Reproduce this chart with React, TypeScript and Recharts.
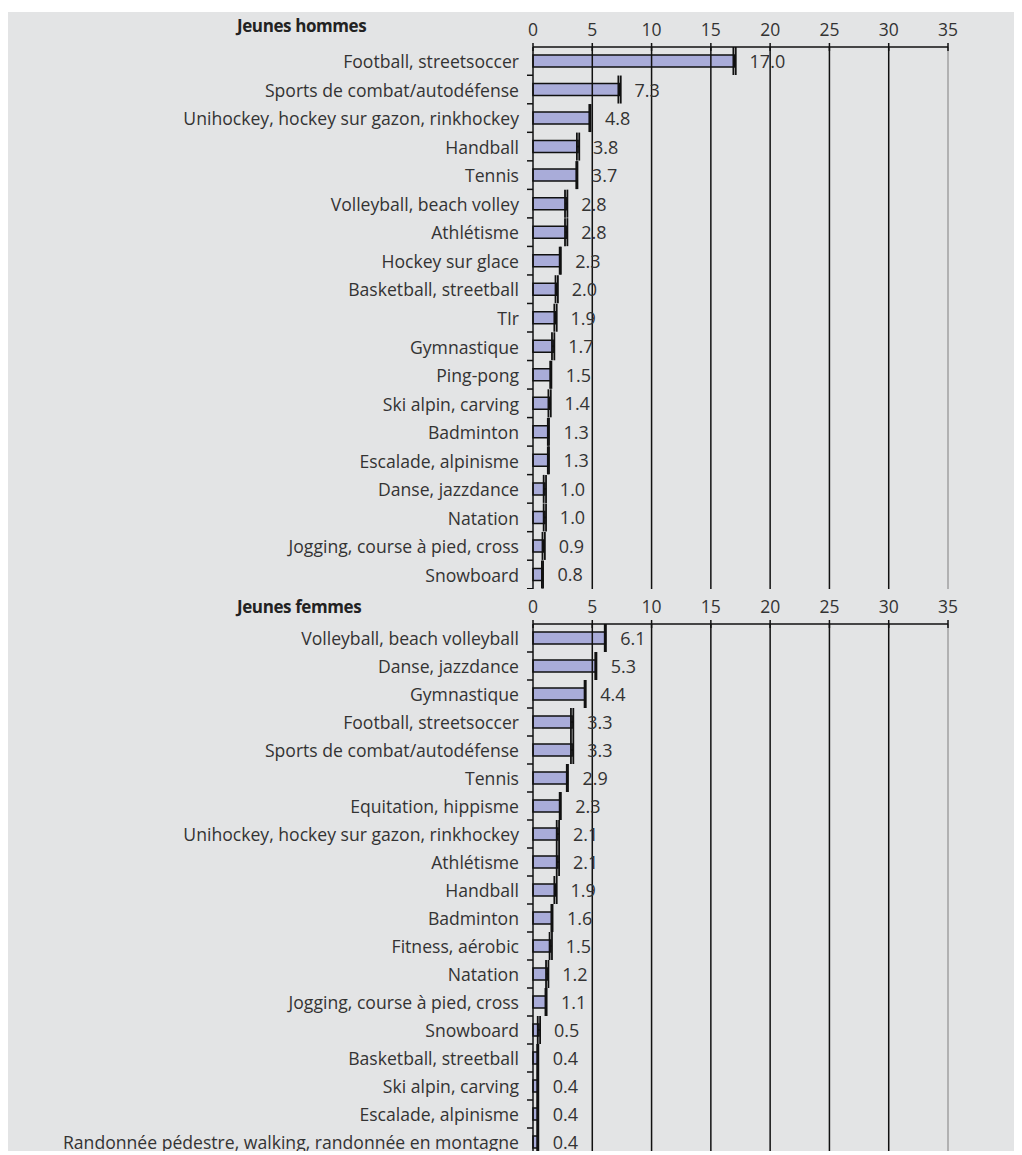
import React from 'react';
import { BarChart, Bar, XAxis, YAxis, ReferenceLine, ErrorBar, LabelList } from 'recharts';

const menCategories = [
  'Football, streetsoccer',
  'Sports de combat/autodéfense',
  'Unihockey, hockey sur gazon, rinkhockey',
  'Handball',
  'Tennis',
  'Volleyball, beach volley',
  'Athlétisme',
  'Hockey sur glace',
  'Basketball, streetball',
  'TIr',
  'Gymnastique',
  'Ping-pong',
  'Ski alpin, carving',
  'Badminton',
  'Escalade, alpinisme',
  'Danse, jazzdance',
  'Natation',
  'Jogging, course à pied, cross',
  'Snowboard',
];
const menValues = [17.0, 7.3, 4.8, 3.8, 3.7, 2.8, 2.8, 2.3, 2.0, 1.9, 1.7, 1.5, 1.4, 1.3, 1.3, 1.0, 1.0, 0.9, 0.8];
const menErrors = [0.1, 0.1, 0.05, 0.1, 0.05, 0.1, 0.1, 0.05, 0.1, 0.1, 0.1, 0.05, 0.1, 0.05, 0.05, 0.1, 0.1, 0.1, 0.05];

const womenCategories = [
  'Volleyball, beach volleyball',
  'Danse, jazzdance',
  'Gymnastique',
  'Football, streetsoccer',
  'Sports de combat/autodéfense',
  'Tennis',
  'Equitation, hippisme',
  'Unihockey, hockey sur gazon, rinkhockey',
  'Athlétisme',
  'Handball',
  'Badminton',
  'Fitness, aérobic',
  'Natation',
  'Jogging, course à pied, cross',
  'Snowboard',
  'Basketball, streetball',
  'Ski alpin, carving',
  'Escalade, alpinisme',
  'Randonnée pédestre, walking, randonnée en montagne',
];
const womenValues = [6.1, 5.3, 4.4, 3.3, 3.3, 2.9, 2.3, 2.1, 2.1, 1.9, 1.6, 1.5, 1.2, 1.1, 0.5, 0.4, 0.4, 0.4, 0.4];
const womenErrors = [0.05, 0.05, 0.05, 0.1, 0.1, 0.05, 0.05, 0.1, 0.1, 0.1, 0.05, 0.1, 0.1, 0.05, 0.1, 0.05, 0.05, 0.05, 0.05];

const xTicks = [0, 5, 10, 15, 20, 25, 30, 35];
const gridDark = [5, 10, 15, 20, 25, 30];

const FONT = '"Open Sans", "Noto Sans", sans-serif';
const TEXT = '#333';
const BAR_FILL = '#a9acd9';
const INK = '#111';

const build = (cats: string[], vals: number[], errs: number[]) =>
  cats.map((c, i) => ({ name: c, value: vals[i], err: errs[i] }));

const XTick = (props: any) => {
  const { x, y, payload } = props;
  return (
    <g>
      <line x1={x} x2={x} y1={y - 4} y2={y + 4} stroke={INK} strokeWidth={1.5} />
      <text x={x} y={y - 11} textAnchor="middle" fontFamily={FONT} fontSize={17.5} fill={TEXT}>
        {payload.value}
      </text>
    </g>
  );
};

const YTick = (props: any) => {
  const { x, y, payload } = props;
  return (
    <g>
      <line x1={x - 6} x2={x} y1={y + 14} y2={y + 14} stroke={INK} strokeWidth={1.5} />
      <text x={x - 14} y={y} textAnchor="end" dominantBaseline="central" fontFamily={FONT} fontSize={17.6} fill={TEXT}>
        {payload.value}
      </text>
    </g>
  );
};

const ValueLabel = (props: any) => {
  const { x, y, width, height, value } = props;
  return (
    <text
      x={Number(x) + Number(width) + 15}
      y={Number(y) + Number(height) / 2}
      dominantBaseline="central"
      fontFamily={FONT}
      fontSize={18}
      fill={TEXT}
    >
      {Number(value).toFixed(1)}
    </text>
  );
};

const Panel = ({ data, height }: { data: any[]; height: number }) => (
  <BarChart
    width={1017}
    height={height}
    data={data}
    layout="vertical"
    margin={{ top: 0, right: 74, bottom: 0, left: 0 }}
    barCategoryGap={16}
  >
    <XAxis
      type="number"
      orientation="top"
      domain={[0, 35]}
      ticks={xTicks}
      interval={0}
      height={35}
      tickSize={0}
      tickMargin={0}
      tickLine={false}
      axisLine={{ stroke: INK, strokeWidth: 1.5 }}
      tick={<XTick />}
    />
    <XAxis
      xAxisId="b"
      type="number"
      orientation="bottom"
      domain={[0, 35]}
      height={0}
      tick={false}
      tickLine={false}
      axisLine={{ stroke: '#a0a0a0', strokeWidth: 1.5 }}
    />
    <YAxis
      type="category"
      dataKey="name"
      width={528}
      interval={0}
      tickSize={0}
      tickMargin={0}
      tickLine={false}
      axisLine={{ stroke: INK, strokeWidth: 1.5 }}
      tick={<YTick />}
    />
    {gridDark.map((v) => (
      <ReferenceLine key={v} x={v} stroke={INK} strokeWidth={1.5} />
    ))}
    <ReferenceLine x={35} stroke="#a0a0a0" strokeWidth={1.5} />
    <Bar dataKey="value" fill={BAR_FILL} stroke={INK} strokeWidth={1.5} barSize={12} isAnimationActive={false}>
      <ErrorBar dataKey="err" direction="x" width={14} stroke={INK} strokeWidth={1.8} />
      <LabelList dataKey="value" content={<ValueLabel />} />
    </Bar>
  </BarChart>
);

const titleStyle: React.CSSProperties = {
  position: 'absolute',
  left: 232,
  fontFamily: FONT,
  fontWeight: 700,
  fontSize: 17,
  color: '#222',
  lineHeight: '22px',
  letterSpacing: '-0.4px',
};

export default function App() {
  const men = build(menCategories, menValues, menErrors);
  const women = build(womenCategories, womenValues, womenErrors);
  return (
    <div
      style={{
        position: 'relative',
        top: 4,
        left: -3,
        width: 1017,
        height: 1143,
        background: '#e3e4e5',
        overflow: 'hidden',
      }}
    >
      <div style={{ ...titleStyle, top: 3 }}>Jeunes hommes</div>
      <div style={{ position: 'absolute', left: 0, top: 0 }}>
        <Panel data={men} height={577} />
      </div>
      <div style={{ ...titleStyle, top: 584 }}>Jeunes femmes</div>
      <div style={{ position: 'absolute', left: 0, top: 577 }}>
        <Panel data={women} height={567} />
      </div>
    </div>
  );
}
